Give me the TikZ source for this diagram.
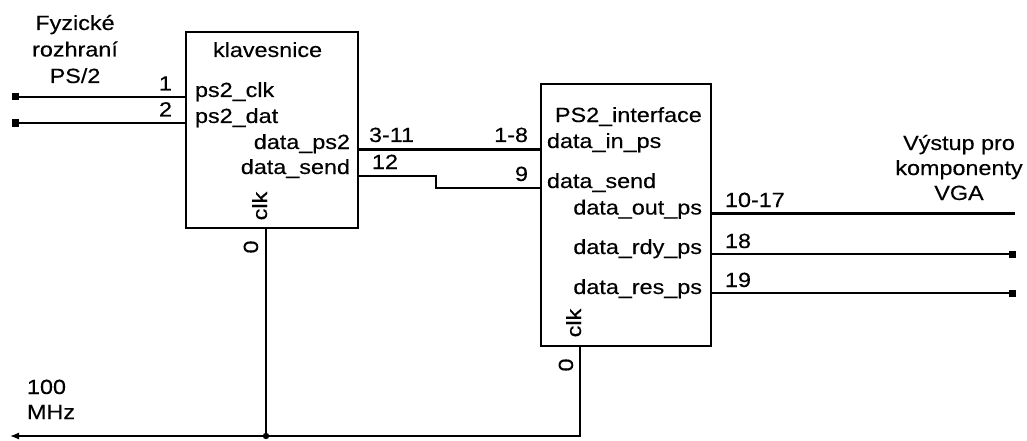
\documentclass[tikz,border=0pt]{standalone}
\usepackage{fontspec}
\setmainfont[FakeStretch=1.14,FakeBold=0.35]{Liberation Sans}
\usetikzlibrary{arrows.meta}
\begin{document}
\begin{tikzpicture}[x=1pt,y=-1pt,
  font=\fontsize{20.5}{25}\selectfont,
  blk/.style={draw, line width=1.5pt, rectangle, inner sep=0pt, outer sep=0pt, anchor=north west},
  txt/.style={inner sep=0pt, outer sep=0pt},
  wire/.style={line width=1.3pt},
  bus/.style={line width=3pt},
  term/.style={fill=black, rectangle, minimum size=7pt, inner sep=0pt},
  rot/.style={txt, rotate=90, anchor=base}]
\useasboundingbox (0,0) rectangle (1027,441);

% blocks
\node[blk, minimum width=172pt, minimum height=196pt] (klav) at (186,32) {};
\node[blk, minimum width=170pt, minimum height=262pt] (ps2) at (541,84) {};

% block texts
\node[txt, anchor=base west] (klavt) at (213,57) {klavesnice};
\node[txt, anchor=base west] (kp1) at (195,97) {ps2\_clk};
\node[txt, anchor=base west] (kp2) at (195,123) {ps2\_dat};
\node[txt, anchor=base east] (kp3) at (350,149) {data\_ps2};
\node[txt, anchor=base east] (kp4) at (350,174) {data\_send};
\node[rot] (kclk) at (267,206) {clk};

\node[txt, anchor=base west] (pst) at (555,122) {PS2\_interface};
\node[txt, anchor=base west] (pp1) at (547,148) {data\_in\_ps};
\node[txt, anchor=base west] (pp2) at (547,188) {data\_send};
\node[txt, anchor=base east] (pp3) at (702,214.5) {data\_out\_ps};
\node[txt, anchor=base east] (pp4) at (702,254) {data\_rdy\_ps};
\node[txt, anchor=base east] (pp5) at (702,294) {data\_res\_ps};
\node[rot] (pclk) at (581,323) {clk};

% pin coordinates
\coordinate (k1) at (186,97);
\coordinate (k2) at (186,123);
\coordinate (kd) at (358,149);
\coordinate (ks) at (358,176);
\coordinate (kc) at (266,228);
\coordinate (pi) at (541,149);
\coordinate (ps) at (541,188);
\coordinate (po) at (711,213);
\coordinate (pr) at (711,254);
\coordinate (pz) at (711,293);
\coordinate (pc) at (580,346);

% terminals
\node[term] (t1) at (15,97) {};
\node[term] (t2) at (15,123) {};
\node[term] (trdy) at (1012,254) {};
\node[term] (tres) at (1012,293) {};
\coordinate (tout) at (1015,213);
\coordinate (clkin) at (10,436);
\coordinate (jn) at (266,436);

% wires
\draw[wire] (t1.center) -- (k1);
\draw[wire] (t2.center) -- (k2);
\draw[bus] (kd) -- (pi);
\draw[wire] (ks) -- ++(78,0) |- (ps);
\draw[bus] (po) -- (tout);
\draw[wire] (pr) -- (trdy.center);
\draw[wire] (pz) -- (tres.center);
\draw[wire] (kc) -- (jn);
\draw[wire, -{Latex[length=9pt,width=7pt]}] (pc) |- (clkin);
\fill (jn) circle (3.2pt);

% wire labels
\node[txt, anchor=base east] (l1) at (172,90.5) {1};
\node[txt, anchor=base east] (l2) at (172,116.5) {2};
\node[txt, anchor=base west] (l3) at (369,142) {3-11};
\node[txt, anchor=base east] (l4) at (528,142) {1-8};
\node[txt, anchor=base west] (l5) at (372,169) {12};
\node[txt, anchor=base east] (l6) at (528,181) {9};
\node[txt, anchor=base west] (l7) at (725,207) {10-17};
\node[txt, anchor=base west] (l8) at (725,248) {18};
\node[txt, anchor=base west] (l9) at (725,287) {19};
\node[rot] (z1) at (258,247) {0};
\node[rot] (z2) at (573,365) {0};

% free labels
\node[txt, anchor=base] (f1) at (75,30) {Fyzické};
\node[txt, anchor=base] (f2) at (75,56.5) {rozhraní};
\node[txt, anchor=base] (f3) at (75,83) {PS/2};
\node[txt, anchor=base] (v1) at (959,150) {Výstup pro};
\node[txt, anchor=base] (v2) at (959,175) {komponenty};
\node[txt, anchor=base] (v3) at (959,200) {VGA};
\node[txt, anchor=base west] (m1) at (27,394) {100};
\node[txt, anchor=base west] (m2) at (27,419) {MHz};
\end{tikzpicture}
\end{document}
